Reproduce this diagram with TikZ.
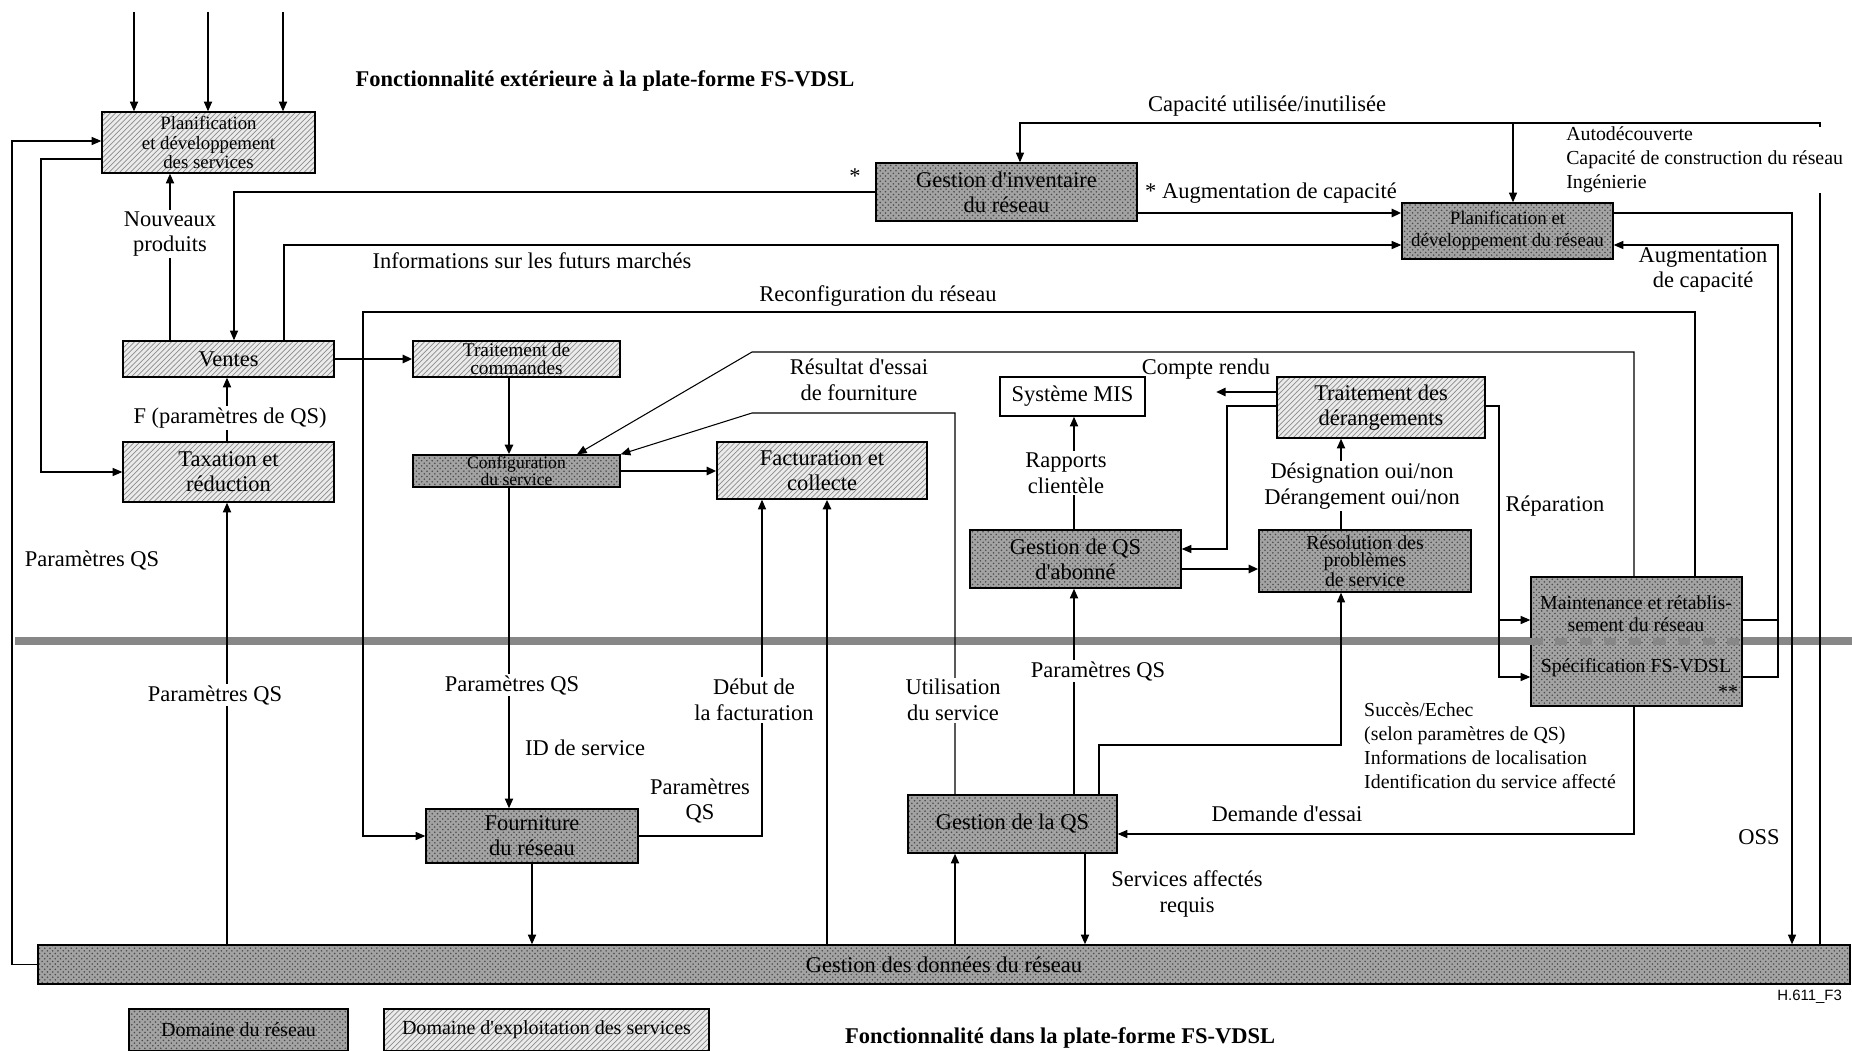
\documentclass[tikz,border=0pt]{standalone}
\usepackage{fontspec}
\setmainfont{Liberation Serif}
\newfontfamily\figsans{Liberation Sans}
\usetikzlibrary{arrows.meta,patterns}

\tikzset{
  lnk/.style={line width=0.6pt},
  lnkm/.style={line width=0.9pt},
  lnkb/.style={line width=1.5pt},
  tip/.style={-{Triangle[length=5.5pt,width=4.6pt]}},
  box/.style={draw, line width=0.8pt, align=center, inner sep=0pt},
  svcbox/.style={box, preaction={fill=black!8}, pattern=north east lines, pattern color=black!45},
  netbox/.style={box, preaction={fill=black!36}, pattern=crosshatch dots, pattern color=black!70},
  bigtxt/.style={font=\fontsize{12.8}{14.3}\selectfont},
  lbl/.style={font=\fontsize{12.8}{14.6}\selectfont, align=center, inner sep=1pt},
  lbls/.style={font=\fontsize{11.3}{13.6}\selectfont, align=left, inner sep=0.5pt},
  cut/.style={fill=white},
  ttl/.style={font=\bfseries\fontsize{12.8}{14.6}\selectfont},
  band/.style={draw=black!47, line width=4pt},
}
\newcommand{\ap}{\textquotesingle}

\begin{document}
\begin{tikzpicture}[x=0.02cm, y=-0.02cm]
\useasboundingbox (0,0) rectangle (1852,1051);
% separation band
\draw[band] (15,641) -- (1852,641);

% Boxes:
\node[svcbox, minimum width=4.26cm, minimum height=1.22cm, font=\fontsize{10.7}{11}\selectfont] (pds) at (208.5,142.5) {Planification\\et développement\\des services};
\node[svcbox, bigtxt, minimum width=4.22cm, minimum height=0.72cm] (ventes) at (228.5,359) {Ventes};
\node[svcbox, bigtxt, minimum width=4.22cm, minimum height=1.2cm] (tax) at (228.5,472) {Taxation et\\réduction};
\node[svcbox, minimum width=4.14cm, minimum height=0.72cm, font=\fontsize{11}{10.2}\selectfont] (cmd) at (516.5,359) {Traitement de\\commandes};
\node[netbox, minimum width=4.14cm, minimum height=0.64cm, font=\fontsize{10}{8.5}\selectfont] (conf) at (516.5,471) {Configuration\\du service};
\node[svcbox, bigtxt, minimum width=4.2cm, minimum height=1.14cm] (fact) at (822,470.5) {Facturation et\\collecte};
\node[netbox, bigtxt, minimum width=4.24cm, minimum height=1.08cm] (four) at (532,836) {Fourniture\\du réseau};
\node[netbox, bigtxt, minimum width=36.24cm, minimum height=0.78cm] (gdr) at (944,964.5) {Gestion des données du réseau};
\node[netbox, bigtxt, minimum width=5.22cm, minimum height=1.16cm] (inv) at (1006.5,192) {Gestion d\ap inventaire\\du réseau};
\node[netbox, minimum width=4.22cm, minimum height=1.12cm, font=\fontsize{10.8}{12.5}\selectfont] (pdr) at (1507.5,231) {Planification et\\développement du réseau};
\node[box, fill=white, bigtxt, minimum width=2.9cm, minimum height=0.78cm] (mis) at (1072.5,396.5) {Système MIS};
\node[svcbox, bigtxt, minimum width=4.16cm, minimum height=1.22cm] (trd) at (1381,407.5) {Traitement des\\dérangements};
\node[netbox, bigtxt, minimum width=4.22cm, minimum height=1.16cm] (qsa) at (1075.5,559) {Gestion de QS\\d\ap abonné};
\node[netbox, minimum width=4.24cm, minimum height=1.24cm, font=\fontsize{11.3}{10}\selectfont] (res) at (1365,561) {Résolution des\\problèmes\\de service};
\node[netbox, minimum width=4.22cm, minimum height=2.58cm] (mnt) at (1636.5,641.5) {};
\node[netbox, bigtxt, minimum width=4.18cm, minimum height=1.16cm] (gqs) at (1012.5,824) {Gestion de la QS};
\draw[band, dash pattern=on 7pt off 7pt] (mnt.west) -- (mnt.east);
\node[font=\fontsize{11.3}{12.5}\selectfont, align=center] at (1636,614) {Maintenance et rétablis-\\sement du réseau};
\node[font=\fontsize{11.3}{12.5}\selectfont] at (1636,668) {Spécification FS-VDSL};
\node[font=\fontsize{11.3}{12.5}\selectfont] at (1728,692) {**};

% legend
\node[netbox, minimum width=4.38cm, minimum height=0.84cm, font=\fontsize{11.4}{13}\selectfont] (lgnet) at (238.5,1030) {Domaine du réseau};
\node[svcbox, minimum width=6.5cm, minimum height=0.84cm, font=\fontsize{11.4}{13}\selectfont] (lgsvc) at (546.5,1030) {Domaine d\ap exploitation des services};

% Wires:
\foreach \x [count=\i] in {134,208,283} {
  \coordinate (in\i) at (\x,12);
  \draw[lnkm,tip] (in\i) -- (in\i |- pds.north);
}
\draw[lnkm,tip] (ventes.north -| 170,0) -- (pds.south -| 170,0);
\draw[lnk,tip] (inv.west) -| (ventes.north -| 234,0);
\draw[lnk,tip] (ventes.north -| 284,0) |- (pdr.west |- 0,245);
\draw[lnkb,tip] (inv.east |- 0,213) -- (pdr.west |- 0,213);
\coordinate (capR) at (1820,123);
\draw[lnk,tip] (gdr.north -| capR) -- (capR) -| (inv.north -| 1020,0);
\draw[lnk,tip] (capR -| 1513,0) -- (pdr.north -| 1513,0);
\draw[lnk,tip] (pdr.east |- 0,213) -| (gdr.north -| 1792,0);
\coordinate (augR) at (1778,245);
\draw[lnk,tip] (mnt.east |- 0,677) -| (augR) -- (pdr.east |- augR);
\draw[lnkm] (mnt.east |- 0,620) -- (augR |- 0,620);
\coordinate (rcf) at (363,312);
\draw[lnk,tip] (mnt.north -| 1695,0) |- (rcf) |- (four.west);
\coordinate (re1) at (752,352);
\draw[lnk,tip] (mnt.north -| 1634,0) |- (re1) -- (conf.north -| 577,0);
\coordinate (re2) at (752,413);
\draw[lnk,tip] (gqs.north -| 955,0) |- (re2) -- (conf.north east);
\draw[lnk,tip] (mnt.south -| 1634,0) |- (gqs.east |- 0,834);
\draw[lnk,tip] (four.east) -| (fact.south -| 762,0);
\draw[lnkb,tip] (gdr.north -| 827,0) -- (fact.south -| 827,0);
\draw[lnkm,tip] (gdr.north -| 227,0) -- (tax.south -| 227,0);
\draw[lnkm,tip] (tax.north -| 227,0) -- (ventes.south -| 227,0);
\coordinate (lft) at (12,141);
\draw[lnk,tip] (gdr.west) -| (lft) -- (pds.west |- lft);
\coordinate (lft2) at (41,159);
\draw[lnk,tip] (pds.west |- lft2) -- (lft2) |- (tax.west);
\draw[lnkb,tip] (ventes.east) -- (cmd.west);
\draw[lnkb,tip] (cmd.south -| 509,0) -- (conf.north -| 509,0);
\draw[lnkb,tip] (conf.east) -- (fact.west |- conf.east);
\draw[lnkm,tip] (conf.south -| 509,0) -- (four.north -| 509,0);
\draw[lnkm,tip] (four.south) -- (four.south |- gdr.north);
\draw[lnkm,tip] (gdr.north -| 955,0) -- (gqs.south -| 955,0);
\draw[lnkm,tip] (gqs.south -| 1085,0) -- (gdr.north -| 1085,0);
\draw[lnkm,tip] (gqs.north -| 1074,0) -- (qsa.south -| 1074,0);
\draw[lnkm,tip] (qsa.north -| 1074,0) -- (mis.south -| 1074,0);
\coordinate (sx) at (1341,745);
\draw[lnk,tip] (gqs.north -| 1099,0) |- (sx) -- (res.south -| sx);
\draw[lnkb,tip] (qsa.east |- 0,569) -- (res.west |- 0,569);
\draw[lnkm,tip] (res.north -| 1341,0) -- (trd.south -| 1341,0);
\coordinate (cr) at (1216,392);
\draw[lnkb,tip] (trd.west |- cr) -- (cr);
\coordinate (dq) at (1227,549);
\draw[lnk,tip] (trd.west |- 0,406) -| (dq) -- (qsa.east |- dq);
\coordinate (rp) at (1499,406);
\draw[lnk,tip] (trd.east |- rp) -- (rp) |- (mnt.west |- 0,620);
\draw[lnk,tip] (rp) |- (mnt.west |- 0,677);

% Labels:
\node[lbl,cut] at (170,234) {Nouveaux\\produits};
\node[lbl,cut] at (230,418) {F (paramètres de QS)};
\node[lbl] at (92,560) {Paramètres QS};
\node[lbl,cut] at (215,695) {Paramètres QS};
\node[lbl,cut] at (512,685) {Paramètres QS};
\node[lbl,anchor=west] at (523,748) {ID de service};
\node[lbl] at (700,801) {Paramètres\\QS};
\node[lbl,cut] at (754,700) {Début de\\la facturation};
\node[lbl,cut] at (953,700) {Utilisation\\du service};
\node[lbl] at (859,380) {Résultat d\ap essai\\de fourniture};
\node[lbl] at (878,296) {Reconfiguration du réseau};
\node[lbl] at (532,261) {Informations sur les futurs marchés};
\node[lbl] at (1267,106) {Capacité utilisée/inutilisée};
\node[lbls,cut,anchor=west,inner ysep=0pt] at (1565,160) {Autodécouverte\\Capacité de construction du réseau\\Ingénierie};
\node[lbl] at (1271,193) {* Augmentation de capacité};
\node[lbl] at (855,176) {*};
\node[lbl] at (1703,270) {Augmentation\\de capacité};
\node[lbl] at (1206,369) {Compte rendu};
\node[lbl,cut] at (1066,473) {Rapports\\clientèle};
\node[lbl,cut] at (1362,486) {Désignation oui/non\\Dérangement oui/non};
\node[lbl] at (1555,506) {Réparation};
\node[lbl,cut] at (1098,671) {Paramètres QS};
\node[lbls,anchor=west] at (1363,746) {Succès/Echec\\(selon paramètres de QS)\\Informations de localisation\\Identification du service affecté};
\node[lbl] at (1287,814) {Demande d\ap essai};
\node[lbl] at (1187,894) {Services affectés\\requis};
\node[lbl] at (1759,837) {OSS};
\node[ttl] at (605,81) {Fonctionnalité extérieure à la plate-forme FS-VDSL};
\node[ttl,anchor=west] at (839,1038) {Fonctionnalité dans la plate-forme FS-VDSL};
\node[font=\figsans\fontsize{8.5}{10}\selectfont, anchor=east] at (1848,997) {H.611\_F3};
\end{tikzpicture}
\end{document}
